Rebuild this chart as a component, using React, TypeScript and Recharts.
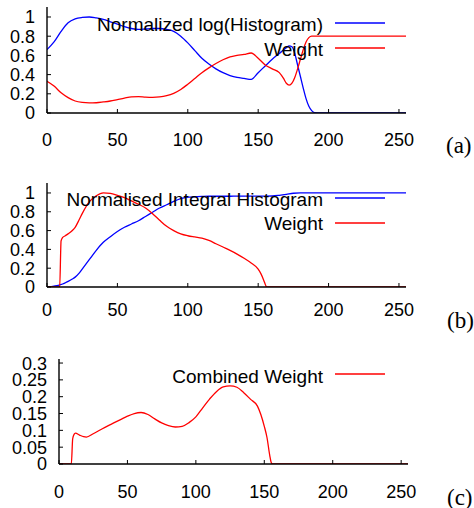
import React from "react";
import { LineChart, Line, XAxis, YAxis } from "recharts";

// panel (a)
const xA = [0, 5, 10, 15, 20, 25, 30, 35, 40, 45, 50, 55, 60, 65, 70, 75, 80, 85, 90, 95, 100, 105, 110, 115, 120, 125, 130, 135, 140, 145, 150, 155, 160, 165, 168, 170, 172, 174, 176, 178, 180, 182, 184, 186, 188, 190, 195, 200, 205, 210, 215, 220, 225, 230, 235, 240, 245, 250, 255];
const logHistA = [0.66, 0.74, 0.85, 0.94, 0.98, 0.995, 1.0, 0.99, 0.975, 0.95, 0.925, 0.9, 0.88, 0.87, 0.875, 0.88, 0.88, 0.87, 0.85, 0.8, 0.73, 0.65, 0.57, 0.51, 0.46, 0.42, 0.39, 0.37, 0.36, 0.35, 0.42, 0.49, 0.56, 0.62, 0.655, 0.68, 0.7, 0.69, 0.62, 0.5, 0.38, 0.26, 0.15, 0.07, 0.025, 0.005, 0, 0, 0, 0, 0, 0, 0, 0, 0, 0, 0, 0, 0];
const weightA = [0.33, 0.28, 0.21, 0.16, 0.125, 0.11, 0.105, 0.107, 0.115, 0.125, 0.14, 0.155, 0.168, 0.17, 0.165, 0.163, 0.167, 0.18, 0.205, 0.245, 0.3, 0.36, 0.42, 0.47, 0.515, 0.555, 0.585, 0.6, 0.61, 0.625, 0.57, 0.5, 0.46, 0.42, 0.36, 0.31, 0.29, 0.31, 0.37, 0.46, 0.56, 0.66, 0.74, 0.785, 0.8, 0.8, 0.8, 0.8, 0.8, 0.8, 0.8, 0.8, 0.8, 0.8, 0.8, 0.8, 0.8, 0.8, 0.8];

// panel (b)
const xB = [0, 5, 8, 9, 10, 11, 13, 15, 18, 20, 23, 25, 30, 35, 40, 45, 50, 55, 60, 65, 70, 75, 80, 85, 90, 95, 100, 105, 110, 115, 120, 125, 130, 135, 140, 145, 150, 152, 154, 155, 156, 160, 165, 170, 175, 180, 185, 190, 195, 200, 205, 210, 215, 220, 225, 230, 235, 240, 245, 250, 255];
const integralB = [0, 0.01, 0.018, 0.022, 0.027, 0.032, 0.045, 0.06, 0.085, 0.105, 0.15, 0.19, 0.29, 0.39, 0.475, 0.535, 0.59, 0.635, 0.67, 0.705, 0.75, 0.795, 0.84, 0.875, 0.91, 0.94, 0.955, 0.96, 0.963, 0.965, 0.965, 0.965, 0.965, 0.966, 0.966, 0.967, 0.967, 0.967, 0.967, 0.967, 0.967, 0.968, 0.975, 0.985, 0.997, 1, 1, 1, 1, 1, 1, 1, 1, 1, 1, 1, 1, 1, 1, 1, 1];
const weightB = [0, 0, 0, 0, 0.49, 0.525, 0.545, 0.565, 0.6, 0.635, 0.72, 0.78, 0.905, 0.97, 1.0, 0.995, 0.975, 0.95, 0.915, 0.88, 0.84, 0.78, 0.71, 0.645, 0.6, 0.565, 0.545, 0.532, 0.52, 0.495, 0.46, 0.425, 0.39, 0.35, 0.305, 0.255, 0.19, 0.14, 0.07, 0.03, 0, 0, 0, 0, 0, 0, 0, 0, 0, 0, 0, 0, 0, 0, 0, 0, 0, 0, 0, 0, 0];

// panel (c)
const xC = [0, 5, 9, 10, 11, 12, 15, 18, 20, 25, 30, 35, 40, 45, 50, 55, 60, 65, 70, 75, 80, 85, 90, 95, 100, 105, 110, 115, 120, 125, 130, 135, 140, 145, 150, 152, 154, 155, 156, 160, 165, 170, 175, 180, 185, 190, 195, 200, 205, 210, 215, 220, 225, 230, 235, 240, 245, 250, 255];
const combinedC = [0, 0, 0, 0.075, 0.088, 0.092, 0.086, 0.081, 0.08, 0.09, 0.101, 0.112, 0.122, 0.132, 0.142, 0.15, 0.153, 0.147, 0.134, 0.122, 0.114, 0.11, 0.112, 0.123, 0.14, 0.167, 0.193, 0.215, 0.229, 0.232, 0.228, 0.212, 0.192, 0.172, 0.112, 0.078, 0.025, 0.005, 0, 0, 0, 0, 0, 0, 0, 0, 0, 0, 0, 0, 0, 0, 0, 0, 0, 0, 0, 0, 0];

const xTicks = [0, 50, 100, 150, 200, 250];
const yTicksAB = [0, 0.2, 0.4, 0.6, 0.8, 1];
const yTicksC = [0, 0.05, 0.1, 0.15, 0.2, 0.25, 0.3];

const FONT = "'Liberation Sans', Arial, Helvetica, sans-serif";
const SERIF = "'Liberation Serif', 'Times New Roman', serif";
const TICK = 4;
const BLUE = "#0000ff";
const RED = "#ff0000";

const bottomTick = (gap: number) => (props: any) => {
  const { x, y, payload } = props;
  return (
    <g>
      <line x1={x} y1={y} x2={x} y2={y - TICK} stroke="#000" />
      <text x={x} y={y + gap} dy="0.36em" textAnchor="middle" fontFamily={FONT} fontSize={18} fill="#000">
        {payload.value}
      </text>
    </g>
  );
};

const topTick = (props: any) => {
  const { x, y } = props;
  return <line x1={x} y1={y} x2={x} y2={y + TICK} stroke="#000" />;
};

const leftTick = (props: any) => {
  const { x, y, payload } = props;
  return (
    <g>
      <line x1={x} y1={y} x2={x + TICK} y2={y} stroke="#000" />
      <text x={x - 12} y={y} dy="0.36em" textAnchor="end" fontFamily={FONT} fontSize={18} fill="#000">
        {payload.value}
      </text>
    </g>
  );
};

const rightTick = (props: any) => {
  const { x, y } = props;
  return <line x1={x} y1={y} x2={x - TICK} y2={y} stroke="#000" />;
};

interface Series {
  key: string;
  color: string;
}

interface PanelProps {
  top: number;
  height: number;
  data: any[];
  series: Series[];
  yMax: number;
  yTicks: number[];
  left: number;
  right: number;
  plotTop: number;
  plotBottom: number;
  gap: number;
}

function Panel({ top, height, data, series, yMax, yTicks, left, right, plotTop, plotBottom, gap }: PanelProps) {
  const axisLine = { stroke: "#000", strokeWidth: 1.4 };
  return (
    <div style={{ position: "absolute", left: 0, top }}>
      <LineChart width={474} height={height} data={data} margin={{ top: plotTop, right: 474 - right, bottom: 0, left: 0 }}>
        <XAxis
          dataKey="x"
          type="number"
          domain={[0, 255]}
          allowDataOverflow
          ticks={xTicks}
          interval={0}
          height={height - plotBottom}
          tickSize={0}
          tickMargin={0}
          axisLine={axisLine}
          tick={bottomTick(gap)}
        />
        <XAxis
          xAxisId="top"
          orientation="top"
          dataKey="x"
          type="number"
          domain={[0, 255]}
          allowDataOverflow
          ticks={xTicks}
          interval={0}
          height={0}
          tickSize={0}
          tickMargin={0}
          axisLine={axisLine}
          tick={topTick}
        />
        <YAxis
          type="number"
          domain={[0, yMax]}
          allowDataOverflow
          ticks={yTicks}
          interval={0}
          width={left}
          tickSize={0}
          tickMargin={0}
          axisLine={axisLine}
          tick={leftTick}
        />
        <YAxis
          yAxisId="r"
          orientation="right"
          dataKey={series[0].key}
          type="number"
          domain={[0, yMax]}
          allowDataOverflow
          ticks={yTicks}
          interval={0}
          width={0}
          tickSize={0}
          tickMargin={0}
          axisLine={axisLine}
          tick={rightTick}
        />
        {series.map((s) => (
          <Line
            key={s.key}
            dataKey={s.key}
            type="monotone"
            stroke={s.color}
            strokeWidth={1.3}
            dot={false}
            activeDot={false}
            isAnimationActive={false}
          />
        ))}
      </LineChart>
    </div>
  );
}

const dataA = xA.map((x, i) => ({ x, hist: logHistA[i], weight: weightA[i] }));
const dataB = xB.map((x, i) => ({ x, integral: integralB[i], weight: weightB[i] }));
const dataC = xC.map((x, i) => ({ x, combined: combinedC[i] }));

const LegendRow = ({ label, color, base, lineY }: { label: string; color: string; base: number; lineY: number }) => (
  <g>
    <text x={323} y={base} textAnchor="end" fontFamily={FONT} fontSize={19} fill="#000">
      {label}
    </text>
    <line x1={335} y1={lineY} x2={385} y2={lineY} stroke={color} strokeWidth={1.3} />
  </g>
);

export default function App() {
  return (
    <div style={{ position: "absolute", left: 0, top: 0, width: 474, height: 508, background: "#fff", overflow: "hidden" }}>
      <Panel
        top={0}
        height={170}
        data={dataA}
        series={[{ key: "hist", color: BLUE }, { key: "weight", color: RED }]}
        yMax={1.104}
        yTicks={yTicksAB}
        left={47}
        right={406}
        plotTop={7}
        plotBottom={113}
        gap={27}
      />
      <Panel
        top={170}
        height={170}
        data={dataB}
        series={[{ key: "integral", color: BLUE }, { key: "weight", color: RED }]}
        yMax={1.106}
        yTicks={yTicksAB}
        left={47}
        right={406}
        plotTop={13}
        plotBottom={117}
        gap={23}
      />
      <Panel
        top={340}
        height={168}
        data={dataC}
        series={[{ key: "combined", color: RED }]}
        yMax={0.312}
        yTicks={yTicksC}
        left={59}
        right={408}
        plotTop={19}
        plotBottom={124}
        gap={28}
      />
      <svg width={474} height={508} style={{ position: "absolute", left: 0, top: 0, pointerEvents: "none" }}>
        <LegendRow label="Normalized log(Histogram)" color={BLUE} base={31} lineY={23} />
        <LegendRow label="Weight" color={RED} base={56} lineY={48} />
        <LegendRow label="Normalised Integral Histogram" color={BLUE} base={206} lineY={198} />
        <LegendRow label="Weight" color={RED} base={230} lineY={223} />
        <LegendRow label="Combined Weight" color={RED} base={383} lineY={374} />
        <text x={446} y={153} fontFamily={SERIF} fontSize={23} fill="#000">(a)</text>
        <text x={447} y={328} fontFamily={SERIF} fontSize={23} fill="#000">(b)</text>
        <text x={447} y={505} fontFamily={SERIF} fontSize={23} fill="#000">(c)</text>
      </svg>
    </div>
  );
}
